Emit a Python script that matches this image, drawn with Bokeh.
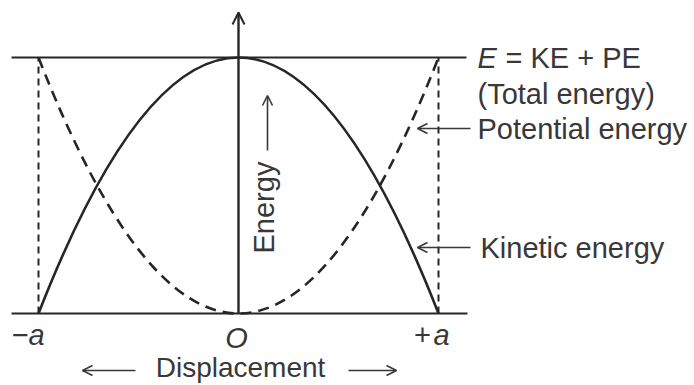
import math
from bokeh.plotting import figure
from bokeh.models import Range1d, Arrow, OpenHead, Label
from bokeh.embed import file_html
from bokeh.resources import INLINE

# ---- data (theoretical SHM energy diagram) ----
a = 1.0            # amplitude
E = 1.0            # total energy
displacement = [-a, 0.0, a]
kinetic = [0.0, E, 0.0]      # KE at -a, 0, +a
potential = [E, 0.0, E]      # PE at -a, 0, +a
tick_labels = ["−", "a", "O", "+", "a"]

INK = "#262626"
TXT = "#383838"
FONT = "Liberation Sans"
FS = "29px"

W, H = 694, 385
x0 = -238 / 200
x1 = x0 + W / 200
y1 = 1 + 57 / 256
y0 = y1 - H / 256

p = figure(width=W, height=H, output_backend="svg", toolbar_location=None,
           x_range=Range1d(x0, x1), y_range=Range1d(y0, y1),
           min_border=0, outline_line_color=None)
p.axis.visible = False
p.grid.visible = False
p.background_fill_color = "white"
p.border_fill_color = "white"


def X(px):
    return x0 + px / W * (x1 - x0)


def Y(py):
    return y1 - py / H * (y1 - y0)


def ctrl(v):
    # control point of a quadratic Bezier (= parabola) through the three values
    return 2 * v[1] - (v[0] + v[2]) / 2


# horizontal lines: total energy and displacement axis
p.segment(x0=[X(11), X(11)], y0=[E, 0.0], x1=[X(466), X(467)], y1=[E, 0.0],
          line_color=INK, line_width=2)

# vertical dashed lines at -a, +a
p.segment(x0=[displacement[0], displacement[2]], y0=[0.0, 0.0],
          x1=[displacement[0], displacement[2]], y1=[E, E],
          line_color=INK, line_width=2, line_dash="7 5")

# kinetic energy (solid parabola)
p.quadratic(x0=[displacement[0]], y0=[kinetic[0]], x1=[displacement[2]], y1=[kinetic[2]],
            cx=[displacement[1]], cy=[ctrl(kinetic)], line_color=INK, line_width=2.6)

# potential energy (dashed parabola)
p.quadratic(x0=[displacement[0]], y0=[potential[0]], x1=[displacement[2]], y1=[potential[2]],
            cx=[displacement[1]], cy=[ctrl(potential)], line_color=INK, line_width=2.6,
            line_dash="11 7")

# vertical energy axis
p.add_layout(Arrow(end=OpenHead(size=12, line_color=INK, line_width=2),
                   x_start=0.0, y_start=0.0, x_end=0.0, y_end=Y(12),
                   line_color=INK, line_width=2.4))


def arrow(xs, ys, xe, ye, size=10):
    p.add_layout(Arrow(end=OpenHead(size=size, line_color=TXT, line_width=1.6),
                       x_start=xs, y_start=ys, x_end=xe, y_end=ye,
                       line_color=TXT, line_width=1.6))


def label(x, y, text, align="left", style="normal", angle=0.0, size=FS):
    p.add_layout(Label(x=x, y=y, text=text, text_font=FONT, text_font_size=size,
                       text_color=TXT, text_align=align, text_baseline="middle",
                       text_font_style=style, angle=angle))


# tick labels
label(X(20), Y(334), tick_labels[0], align="center")
label(X(36), Y(334), tick_labels[1], align="center", style="italic")
label(X(236), Y(337), tick_labels[2], align="center", style="italic")
label(X(422), Y(334), tick_labels[3], align="center")
label(X(441), Y(334), tick_labels[4], align="center", style="italic")

# right-hand annotations
label(X(477), Y(57), "E", style="italic")
label(X(505), Y(57), "= KE + PE")
label(X(477), Y(93), "(Total energy)")
label(X(477), Y(128), "Potential energy")
arrow(X(470), Y(128), X(417), Y(128))
label(X(480), Y(247), "Kinetic energy")
arrow(X(470), Y(247), X(417), Y(247))

# energy label on axis
label(X(263), Y(253), "Energy", angle=math.pi / 2)
arrow(X(267), Y(150), X(267), Y(95))

# displacement label
label(X(240), Y(367), "Displacement", align="center", size="28px")
arrow(X(135), Y(370), X(82), Y(370))
arrow(X(348), Y(370), X(396), Y(370))

open("out.html", "w").write(file_html(p, INLINE))
